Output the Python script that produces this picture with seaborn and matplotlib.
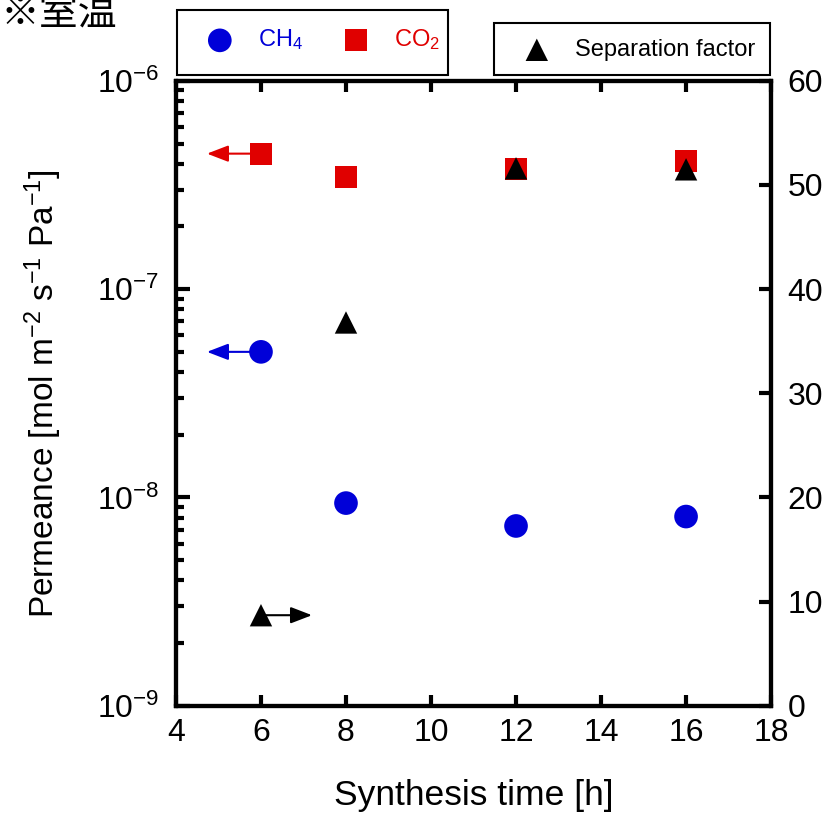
import numpy as np
import pandas as pd
import seaborn as sns
import matplotlib.pyplot as plt
from matplotlib.patches import Rectangle

# Data
time_h = [6, 8, 12, 16]
ch4_perm = [5.0e-8, 9.4e-9, 7.3e-9, 8.1e-9]
co2_perm = [4.47e-7, 3.46e-7, 3.78e-7, 4.13e-7]
sep_factor = [8.7, 36.8, 51.6, 51.5]

sns.set_theme(style="ticks")
plt.rcParams['font.family'] = ['Liberation Sans', 'Noto Sans CJK JP', 'DejaVu Sans']
plt.rcParams['mathtext.fontset'] = 'custom'
plt.rcParams['mathtext.rm'] = 'Liberation Sans'
plt.rcParams['mathtext.it'] = 'Liberation Sans'
for k in ['text.color', 'axes.labelcolor', 'xtick.color', 'ytick.color']:
    plt.rcParams[k] = 'black'

df = pd.DataFrame({'time': time_h, 'CH4': ch4_perm, 'CO2': co2_perm, 'SF': sep_factor})

blue = '#0000d8'
red = '#e00000'

fig = plt.figure(figsize=(8.3, 8.16), dpi=100)
ax = fig.add_axes([0.212, 0.135, 0.717, 0.766])
ax2 = ax.twinx()

# arrows pointing to the axis each series belongs to
astyle = '-|>,head_length=0.65,head_width=0.25'
ax.annotate('', xy=(4.73, co2_perm[0]), xytext=(time_h[0], co2_perm[0]),
            arrowprops=dict(arrowstyle=astyle, color=red, lw=1.5, mutation_scale=20, shrinkA=0, shrinkB=0), zorder=1)
ax.annotate('', xy=(4.73, ch4_perm[0]), xytext=(time_h[0], ch4_perm[0]),
            arrowprops=dict(arrowstyle=astyle, color=blue, lw=1.5, mutation_scale=20, shrinkA=0, shrinkB=0), zorder=1)
ax2.annotate('', xy=(7.2, sep_factor[0]), xytext=(time_h[0], sep_factor[0]),
             arrowprops=dict(arrowstyle=astyle, color='black', lw=1.5, mutation_scale=20, shrinkA=0, shrinkB=0), zorder=1)

sns.scatterplot(data=df, x='time', y='CH4', ax=ax, marker='o', s=290, color=blue, edgecolor='none', zorder=3)
sns.scatterplot(data=df, x='time', y='CO2', ax=ax, marker='s', s=250, color=red, edgecolor='none', zorder=3)
sns.scatterplot(data=df, x='time', y='SF', ax=ax2, marker='^', s=260, color='black', edgecolor='none', zorder=3)

ax.set_yscale('log')
ax.set_ylim(1e-9, 1e-6)
ax.set_xlim(4, 18)
ax.set_xticks(range(4, 19, 2))
ax2.set_ylim(0, 60)
ax2.set_yticks(range(0, 61, 10))

ax.set_xlabel('Synthesis time [h]', fontsize=25.5, labelpad=22)
ax.set_ylabel('Permeance [mol m$^{-2}$ s$^{-1}$ Pa$^{-1}$]', fontsize=24)
ax.yaxis.set_label_coords(-0.188, 0.5)
ax2.set_ylabel('')

for a in (ax, ax2):
    for s in a.spines.values():
        s.set_linewidth(3)
        s.set_color('black')

ax.tick_params(axis='x', which='major', direction='in', length=8, width=3, top=True,
               labelsize=23, pad=9)
ax.tick_params(axis='y', which='major', direction='in', length=10, width=3, right=False,
               labelsize=23, pad=12)
ax.tick_params(axis='y', which='minor', direction='in', length=6, width=3, right=False)
ax2.tick_params(axis='y', which='major', direction='in', length=9, width=3,
                labelsize=23, pad=12)

# legend boxes above the axes
fig.patches.append(Rectangle((177 / 830, 1 - 75 / 816), 271 / 830, 65 / 816, transform=fig.transFigure,
                             fill=False, edgecolor='black', lw=1.5))
fig.patches.append(Rectangle((494 / 830, 1 - 75 / 816), 276 / 830, 52 / 816, transform=fig.transFigure,
                             fill=False, edgecolor='black', lw=1.5))

h1 = ax.scatter([], [], marker='o', s=290, color=blue, edgecolor='none')
h2 = ax.scatter([], [], marker='s', s=250, color=red, edgecolor='none')
h3 = ax.scatter([], [], marker='^', s=260, color='black', edgecolor='none')
fig.legend([h1, h2], ['CH$_4$', 'CO$_2$'], ncol=2, loc='center left',
           bbox_to_anchor=(208 / 830, 1 - 40 / 816), frameon=False, fontsize=17,
           labelcolor=[blue, red], handlelength=1.0, handletextpad=1.1,
           columnspacing=1.75, borderpad=0, borderaxespad=0)
fig.legend([h3], ['Separation factor'], loc='center left',
           bbox_to_anchor=(525 / 830, 1 - 50 / 816), frameon=False, fontsize=17,
           handlelength=1.0, handletextpad=1.1, borderpad=0, borderaxespad=0)

fig.text(0.0, 1 - 26 / 816, '※室温', fontsize=28, va='baseline', ha='left',
         family=['Noto Sans CJK JP', 'DejaVu Sans'])

fig.savefig('out.png', dpi=100)
